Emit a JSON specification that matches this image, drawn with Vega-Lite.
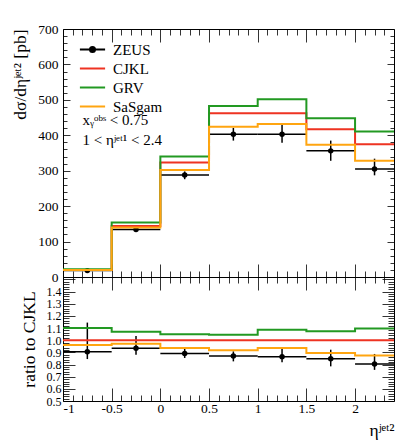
{
  "$schema": "https://vega.github.io/schema/vega-lite/v6.json",
  "padding": {"left": 11, "top": 21, "right": 5, "bottom": 5},
  "background": "white",
  "datasets": {
    "models": [
      {"s": "CJKL", "x": -1, "y": 20, "r": 1},
      {"s": "CJKL", "x": -0.5, "y": 144, "r": 1},
      {"s": "CJKL", "x": 0, "y": 323, "r": 1},
      {"s": "CJKL", "x": 0.5, "y": 462, "r": 1},
      {"s": "CJKL", "x": 1, "y": 462, "r": 1},
      {"s": "CJKL", "x": 1.5, "y": 417, "r": 1},
      {"s": "CJKL", "x": 2, "y": 375, "r": 1},
      {"s": "CJKL", "x": 2.4, "y": 375, "r": 1},
      {"s": "GRV", "x": -1, "y": 22, "r": 1.1},
      {"s": "GRV", "x": -0.5, "y": 154, "r": 1.07},
      {"s": "GRV", "x": 0, "y": 340, "r": 1.05},
      {"s": "GRV", "x": 0.5, "y": 483, "r": 1.045},
      {"s": "GRV", "x": 1, "y": 502, "r": 1.087},
      {"s": "GRV", "x": 1.5, "y": 448, "r": 1.074},
      {"s": "GRV", "x": 2, "y": 411, "r": 1.096},
      {"s": "GRV", "x": 2.4, "y": 411, "r": 1.096},
      {"s": "SaSgam", "x": -1, "y": 19.5, "r": 0.96},
      {"s": "SaSgam", "x": -0.5, "y": 140, "r": 0.97},
      {"s": "SaSgam", "x": 0, "y": 302, "r": 0.935},
      {"s": "SaSgam", "x": 0.5, "y": 424, "r": 0.918},
      {"s": "SaSgam", "x": 1, "y": 432, "r": 0.935},
      {"s": "SaSgam", "x": 1.5, "y": 373, "r": 0.894},
      {"s": "SaSgam", "x": 2, "y": 328, "r": 0.875},
      {"s": "SaSgam", "x": 2.4, "y": 328, "r": 0.875}
    ],
    "zeus": [
      {"lo": -1, "hi": -0.5, "c": -0.75, "y": 18, "ylo": 14, "yhi": 23, "r": 0.905, "rlo": 0.845, "rhi": 1.145},
      {"lo": -0.5, "hi": 0, "c": -0.25, "y": 134, "ylo": 128, "yhi": 141, "r": 0.933, "rlo": 0.88, "rhi": 1.034},
      {"lo": 0, "hi": 0.5, "c": 0.25, "y": 288, "ylo": 276, "yhi": 298, "r": 0.89, "rlo": 0.854, "rhi": 0.928},
      {"lo": 0.5, "hi": 1, "c": 0.75, "y": 403, "ylo": 385, "yhi": 421, "r": 0.87, "rlo": 0.826, "rhi": 0.908},
      {"lo": 1, "hi": 1.5, "c": 1.25, "y": 403, "ylo": 379, "yhi": 430, "r": 0.865, "rlo": 0.818, "rhi": 0.93},
      {"lo": 1.5, "hi": 2, "c": 1.75, "y": 356, "ylo": 328, "yhi": 385, "r": 0.848, "rlo": 0.785, "rhi": 0.922},
      {"lo": 2, "hi": 2.4, "c": 2.2, "y": 305, "ylo": 287, "yhi": 334, "r": 0.805, "rlo": 0.756, "rhi": 0.887}
    ],
    "notes": [
      {"t": "xᵧᵒᵇˢ < 0.75", "nx": -0.8, "ny": 429},
      {"t": "1 < ηʲᵉᵗ¹ < 2.4", "nx": -0.8, "ny": 373}
    ]
  },
  "config": {
    "font": "'Liberation Serif', serif",
    "view": {"stroke": "black", "strokeWidth": 1},
    "axis": {
      "domain": false, "grid": false, "labelOverlap": false,
      "labelFont": "'Liberation Serif', serif", "labelFontSize": 13.5, "labelColor": "black",
      "titleFont": "'Liberation Serif', serif", "titleFontSize": 17.5, "titleColor": "black", "titleFontWeight": "normal",
      "tickColor": "black", "tickWidth": 0.8
    },
    "legend": {"labelFont": "'Liberation Serif', serif", "labelFontSize": 15, "labelColor": "black"},
    "text": {"font": "'Liberation Serif', serif"}
  },
  "vconcat": [
    {
      "width": 331,
      "height": 248,
      "layer": [
        {
          "data": {"name": "zeus"},
          "mark": {"type": "rule", "strokeWidth": 1.5},
          "encoding": {
            "x": {"field": "lo", "type": "quantitative", "scale": {"domain": [-1, 2.4], "nice": false, "zero": false},
              "axis": {"orient": "bottom", "title": null, "labels": false, "minExtent": 0, "maxExtent": 0,
                "values": [-1,-0.9,-0.8,-0.7,-0.6,-0.5,-0.4,-0.3,-0.2,-0.1,0,0.1,0.2,0.3,0.4,0.5,0.6,0.7,0.8,0.9,1,1.1,1.2,1.3,1.4,1.5,1.6,1.7,1.8,1.9,2,2.1,2.2,2.3],
                "tickSize": {"condition": {"test": "abs(datum.value*2 - round(datum.value*2)) < 0.001", "value": -13}, "value": -6}}},
            "x2": {"field": "hi"},
            "y": {"field": "y", "type": "quantitative", "scale": {"domain": [0, 700], "nice": false},
              "axis": {"orient": "left", "title": "dσ/dηʲᵉᵗ² [pb]", "titleAnchor": "end", "titlePadding": 8,
                "values": [0,20,40,60,80,100,120,140,160,180,200,220,240,260,280,300,320,340,360,380,400,420,440,460,480,500,520,540,560,580,600,620,640,660,680,700],
                "labelExpr": "datum.value % 100 === 0 ? datum.value + '' : ''",
                "labelPadding": 12,
                "tickSize": {"condition": {"test": "datum.value % 100 === 0", "value": -7}, "value": -4}}},
            "color": {"datum": "ZEUS", "type": "nominal",
              "scale": {"domain": ["ZEUS", "CJKL", "GRV", "SaSgam"], "range": ["black", "#ee3322", "#229922", "#ffa510"]},
              "legend": {"title": null, "orient": "none", "legendX": 22, "legendY": 13, "symbolType": "stroke", "symbolSize": 144, "symbolStrokeWidth": 2, "labelOffset": 13, "rowPadding": 3,
                "labelFont": "'Liberation Serif', serif", "labelFontSize": 15,
                "encode": {"symbols": {"update": {
                  "shape": {"signal": "datum.value === 'ZEUS' ? 'M-2.1,0H2.1M0.42,0A0.42,0.42,0,1,1,-0.42,0A0.42,0.42,0,1,1,0.42,0Z' : 'M-2.1,0H2.1'"},
                  "fill": {"signal": "datum.value === 'ZEUS' ? 'black' : 'transparent'"}}}}}}
          }
        },
        {
          "data": {"name": "zeus"},
          "mark": {"type": "rule", "strokeWidth": 1.5, "color": "black"},
          "encoding": {
            "x": {"field": "c", "type": "quantitative", "scale": {"domain": [-1, 2.4], "nice": false, "zero": false}, "axis": null},
            "y": {"field": "ylo", "type": "quantitative", "scale": {"domain": [0, 700], "nice": false}, "axis": null},
            "y2": {"field": "yhi"}
          }
        },
        {
          "data": {"name": "zeus"},
          "mark": {"type": "point", "filled": true, "color": "black", "size": 30, "opacity": 1},
          "encoding": {
            "x": {"field": "c", "type": "quantitative", "scale": {"domain": [-1, 2.4], "nice": false, "zero": false},
              "axis": {"orient": "top", "title": null, "labels": false, "minExtent": 0, "maxExtent": 0,
                "values": [-1,-0.9,-0.8,-0.7,-0.6,-0.5,-0.4,-0.3,-0.2,-0.1,0,0.1,0.2,0.3,0.4,0.5,0.6,0.7,0.8,0.9,1,1.1,1.2,1.3,1.4,1.5,1.6,1.7,1.8,1.9,2,2.1,2.2,2.3],
                "tickSize": {"condition": {"test": "abs(datum.value*2 - round(datum.value*2)) < 0.001", "value": -13}, "value": -6}}},
            "y": {"field": "y", "type": "quantitative", "scale": {"domain": [0, 700], "nice": false},
              "axis": {"orient": "right", "title": null, "labels": false, "minExtent": 0, "maxExtent": 0,
                "values": [0,20,40,60,80,100,120,140,160,180,200,220,240,260,280,300,320,340,360,380,400,420,440,460,480,500,520,540,560,580,600,620,640,660,680,700],
                "tickSize": {"condition": {"test": "datum.value % 100 === 0", "value": -7}, "value": -4}}}
          }
        },
        {
          "data": {"name": "models"},
          "mark": {"type": "line", "interpolate": "step-after", "strokeWidth": 2},
          "encoding": {
            "x": {"field": "x", "type": "quantitative", "scale": {"domain": [-1, 2.4], "nice": false, "zero": false}, "axis": null},
            "y": {"field": "y", "type": "quantitative", "scale": {"domain": [0, 700], "nice": false}, "axis": null},
            "color": {"field": "s", "type": "nominal",
              "scale": {"domain": ["ZEUS", "CJKL", "GRV", "SaSgam"], "range": ["black", "#ee3322", "#229922", "#ffa510"]},
              "legend": {"title": null}}
          }
        },
        {
          "data": {"name": "notes"},
          "mark": {"type": "text", "align": "left", "baseline": "alphabetic", "fontSize": 15, "font": "'Liberation Serif', serif", "color": "black"},
          "encoding": {
            "x": {"field": "nx", "type": "quantitative", "scale": {"domain": [-1, 2.4], "nice": false, "zero": false}, "axis": null},
            "y": {"field": "ny", "type": "quantitative", "scale": {"domain": [0, 700], "nice": false}, "axis": null},
            "text": {"field": "t"}
          }
        }
      ],
      "resolve": {"axis": {"x": "independent", "y": "independent"}}
    },
    {
      "width": 331,
      "height": 124,
      "layer": [
        {
          "data": {"name": "zeus"},
          "mark": {"type": "rule", "strokeWidth": 1.5, "color": "black"},
          "encoding": {
            "x": {"field": "lo", "type": "quantitative", "scale": {"domain": [-1, 2.4], "nice": false, "zero": false},
              "axis": {"orient": "bottom", "title": "ηʲᵉᵗ²", "titleAnchor": "end", "titlePadding": 0,
                "values": [-1,-0.9,-0.8,-0.7,-0.6,-0.5,-0.4,-0.3,-0.2,-0.1,0,0.1,0.2,0.3,0.4,0.5,0.6,0.7,0.8,0.9,1,1.1,1.2,1.3,1.4,1.5,1.6,1.7,1.8,1.9,2,2.1,2.2,2.3],
                "labelExpr": "abs(datum.value*2 - round(datum.value*2)) < 0.001 ? datum.value + '' : ''",
                "labelPadding": 13,
                "tickSize": {"condition": {"test": "abs(datum.value*2 - round(datum.value*2)) < 0.001", "value": -13}, "value": -6}}},
            "x2": {"field": "hi"},
            "y": {"field": "r", "type": "quantitative", "scale": {"domain": [0.5, 1.52], "nice": false, "zero": false},
              "axis": {"orient": "left", "title": "ratio to CJKL", "titlePadding": 8, "labelFontSize": 12,
                "values": [0.5,0.52,0.54,0.56,0.58,0.6,0.62,0.64,0.66,0.68,0.7,0.72,0.74,0.76,0.78,0.8,0.82,0.84,0.86,0.88,0.9,0.92,0.94,0.96,0.98,1,1.02,1.04,1.06,1.08,1.1,1.12,1.14,1.16,1.18,1.2,1.22,1.24,1.26,1.28,1.3,1.32,1.34,1.36,1.38,1.4,1.42,1.44,1.46,1.48,1.5],
                "labelExpr": "abs(datum.value*10 - round(datum.value*10)) < 0.001 && datum.value < 1.45 ? format(datum.value, '.1f') : ''",
                "labelPadding": 14,
                "tickSize": {"condition": {"test": "abs(datum.value*10 - round(datum.value*10)) < 0.001", "value": -12}, "value": -6}}}
          }
        },
        {
          "data": {"name": "zeus"},
          "mark": {"type": "rule", "strokeWidth": 1.5, "color": "black"},
          "encoding": {
            "x": {"field": "c", "type": "quantitative", "scale": {"domain": [-1, 2.4], "nice": false, "zero": false}, "axis": null},
            "y": {"field": "rlo", "type": "quantitative", "scale": {"domain": [0.5, 1.52], "nice": false, "zero": false}, "axis": null},
            "y2": {"field": "rhi"}
          }
        },
        {
          "data": {"name": "zeus"},
          "mark": {"type": "point", "filled": true, "color": "black", "size": 30, "opacity": 1},
          "encoding": {
            "x": {"field": "c", "type": "quantitative", "scale": {"domain": [-1, 2.4], "nice": false, "zero": false},
              "axis": {"orient": "top", "title": null, "labels": false, "minExtent": 0, "maxExtent": 0,
                "values": [-1,-0.9,-0.8,-0.7,-0.6,-0.5,-0.4,-0.3,-0.2,-0.1,0,0.1,0.2,0.3,0.4,0.5,0.6,0.7,0.8,0.9,1,1.1,1.2,1.3,1.4,1.5,1.6,1.7,1.8,1.9,2,2.1,2.2,2.3],
                "tickSize": {"condition": {"test": "abs(datum.value*2 - round(datum.value*2)) < 0.001", "value": -13}, "value": -6}}},
            "y": {"field": "r", "type": "quantitative", "scale": {"domain": [0.5, 1.52], "nice": false, "zero": false},
              "axis": {"orient": "right", "title": null, "labels": false, "minExtent": 0, "maxExtent": 0,
                "values": [0.5,0.52,0.54,0.56,0.58,0.6,0.62,0.64,0.66,0.68,0.7,0.72,0.74,0.76,0.78,0.8,0.82,0.84,0.86,0.88,0.9,0.92,0.94,0.96,0.98,1,1.02,1.04,1.06,1.08,1.1,1.12,1.14,1.16,1.18,1.2,1.22,1.24,1.26,1.28,1.3,1.32,1.34,1.36,1.38,1.4,1.42,1.44,1.46,1.48,1.5],
                "tickSize": {"condition": {"test": "abs(datum.value*10 - round(datum.value*10)) < 0.001", "value": -12}, "value": -6}}}
          }
        },
        {
          "data": {"name": "models"},
          "mark": {"type": "line", "interpolate": "step-after", "strokeWidth": 2},
          "encoding": {
            "x": {"field": "x", "type": "quantitative", "scale": {"domain": [-1, 2.4], "nice": false, "zero": false}, "axis": null},
            "y": {"field": "r", "type": "quantitative", "scale": {"domain": [0.5, 1.52], "nice": false, "zero": false}, "axis": null},
            "color": {"field": "s", "type": "nominal",
              "scale": {"domain": ["ZEUS", "CJKL", "GRV", "SaSgam"], "range": ["black", "#ee3322", "#229922", "#ffa510"]}, "legend": null}
          }
        }
      ],
      "resolve": {"axis": {"x": "independent", "y": "independent"}}
    }
  ],
  "spacing": 0,
  "bounds": "flush",
  "resolve": {"scale": {"color": "independent"}, "legend": {"color": "independent"}}
}
